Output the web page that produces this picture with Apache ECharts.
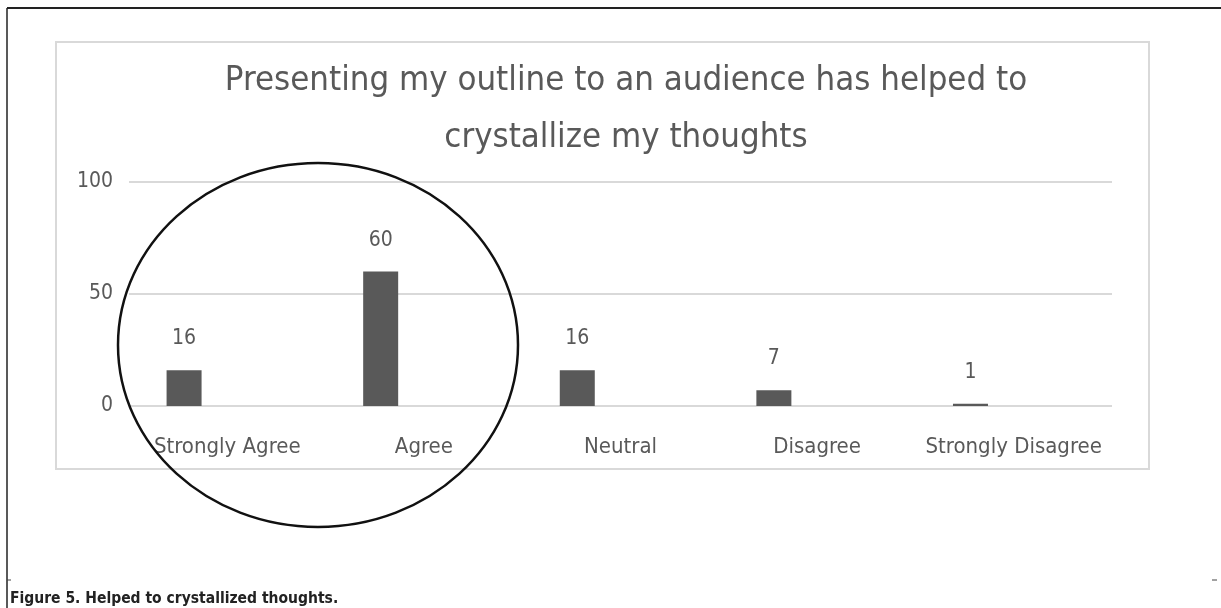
<!DOCTYPE html>
<html>
<head>
<meta charset="utf-8">
<script src="https://cdn.jsdelivr.net/npm/echarts@6/dist/echarts.min.js"></script>
<style>
  html, body { margin: 0; padding: 0; background: #fff; }
  #chart { width: 1221px; height: 608px; }
</style>
</head>
<body>
<div id="chart"></div>
<script>
// Survey responses
const categories = ['Strongly Agree', 'Agree', 'Neutral', 'Disagree', 'Strongly Disagree'];
const responses = [16, 60, 16, 7, 1];
const spacer = [null, null, null, null, null];   // empty second column in each slot
const yTicks = { min: 0, max: 100, interval: 50 };

const chartTitle = 'Presenting my outline to an audience has helped to\ncrystallize my thoughts';
const caption = 'Figure 5. Helped to crystallized thoughts.';

const FONT = '"DejaVu Sans Condensed", "Liberation Sans Narrow", "Open Sans", sans-serif';
const GREY_TEXT = '#595959';

const chart = echarts.init(document.getElementById('chart'), null, { renderer: 'canvas' });

chart.setOption({
  backgroundColor: '#fff',
  animation: false,
  textStyle: { fontFamily: FONT },
  title: [
    {
      text: chartTitle,
      left: 626, top: 53,
      textAlign: 'center',
      padding: 0,
      textStyle: { fontFamily: FONT, fontSize: 34.5, fontWeight: 'normal', color: GREY_TEXT, lineHeight: 57 }
    },
    {
      text: caption,
      left: 10, top: 591,
      padding: 0,
      textStyle: { fontFamily: FONT, fontSize: 15.5, fontWeight: 'bold', color: '#222' }
    }
  ],
  grid: { left: 129, right: 109, top: 182, bottom: 202, containLabel: false },
  xAxis: {
    type: 'category',
    data: categories,
    axisLine: { show: false },
    axisTick: { show: false },
    axisLabel: { color: GREY_TEXT, fontSize: 22, margin: 30, fontFamily: FONT, interval: 0 }
  },
  yAxis: {
    type: 'value',
    min: yTicks.min, max: yTicks.max, interval: yTicks.interval,
    axisLine: { show: false },
    axisTick: { show: false },
    axisLabel: { color: GREY_TEXT, fontSize: 21, margin: 16, fontFamily: FONT },
    splitLine: { lineStyle: { color: '#d9d9d9', width: 2 } }
  },
  series: [
    {
      name: 'Responses',
      type: 'bar',
      data: responses,
      barWidth: 35,
      barGap: '147%',
      itemStyle: { color: '#595959' },
      label: {
        show: true, position: 'top', distance: 21,
        color: GREY_TEXT, fontSize: 21, fontFamily: FONT
      }
    },
    {
      name: 'spacer',
      type: 'bar',
      data: spacer,
      barWidth: 35,
      itemStyle: { color: 'transparent' }
    }
  ],
  graphic: [
    // page frame
    { type: 'line', shape: { x1: 7, y1: 8, x2: 1221, y2: 8 }, style: { stroke: '#222', lineWidth: 2 } },
    { type: 'line', shape: { x1: 7, y1: 8, x2: 7, y2: 608 }, style: { stroke: '#222', lineWidth: 1.5 } },
    { type: 'line', shape: { x1: 7, y1: 580, x2: 11, y2: 580 }, style: { stroke: '#444', lineWidth: 1 } },
    { type: 'line', shape: { x1: 1212, y1: 580, x2: 1217, y2: 580 }, style: { stroke: '#444', lineWidth: 1 } },
    // chart area border
    { type: 'rect', shape: { x: 56, y: 42, width: 1093, height: 427 }, style: { fill: 'none', stroke: '#d9d9d9', lineWidth: 2 }, z: -1 },
    // hand-drawn emphasis ellipse round the first two categories
    { type: 'ellipse', shape: { cx: 318, cy: 345, rx: 200, ry: 182 }, style: { fill: 'none', stroke: '#111', lineWidth: 2.5 }, z: 100 }
  ]
});
</script>
</body>
</html>
